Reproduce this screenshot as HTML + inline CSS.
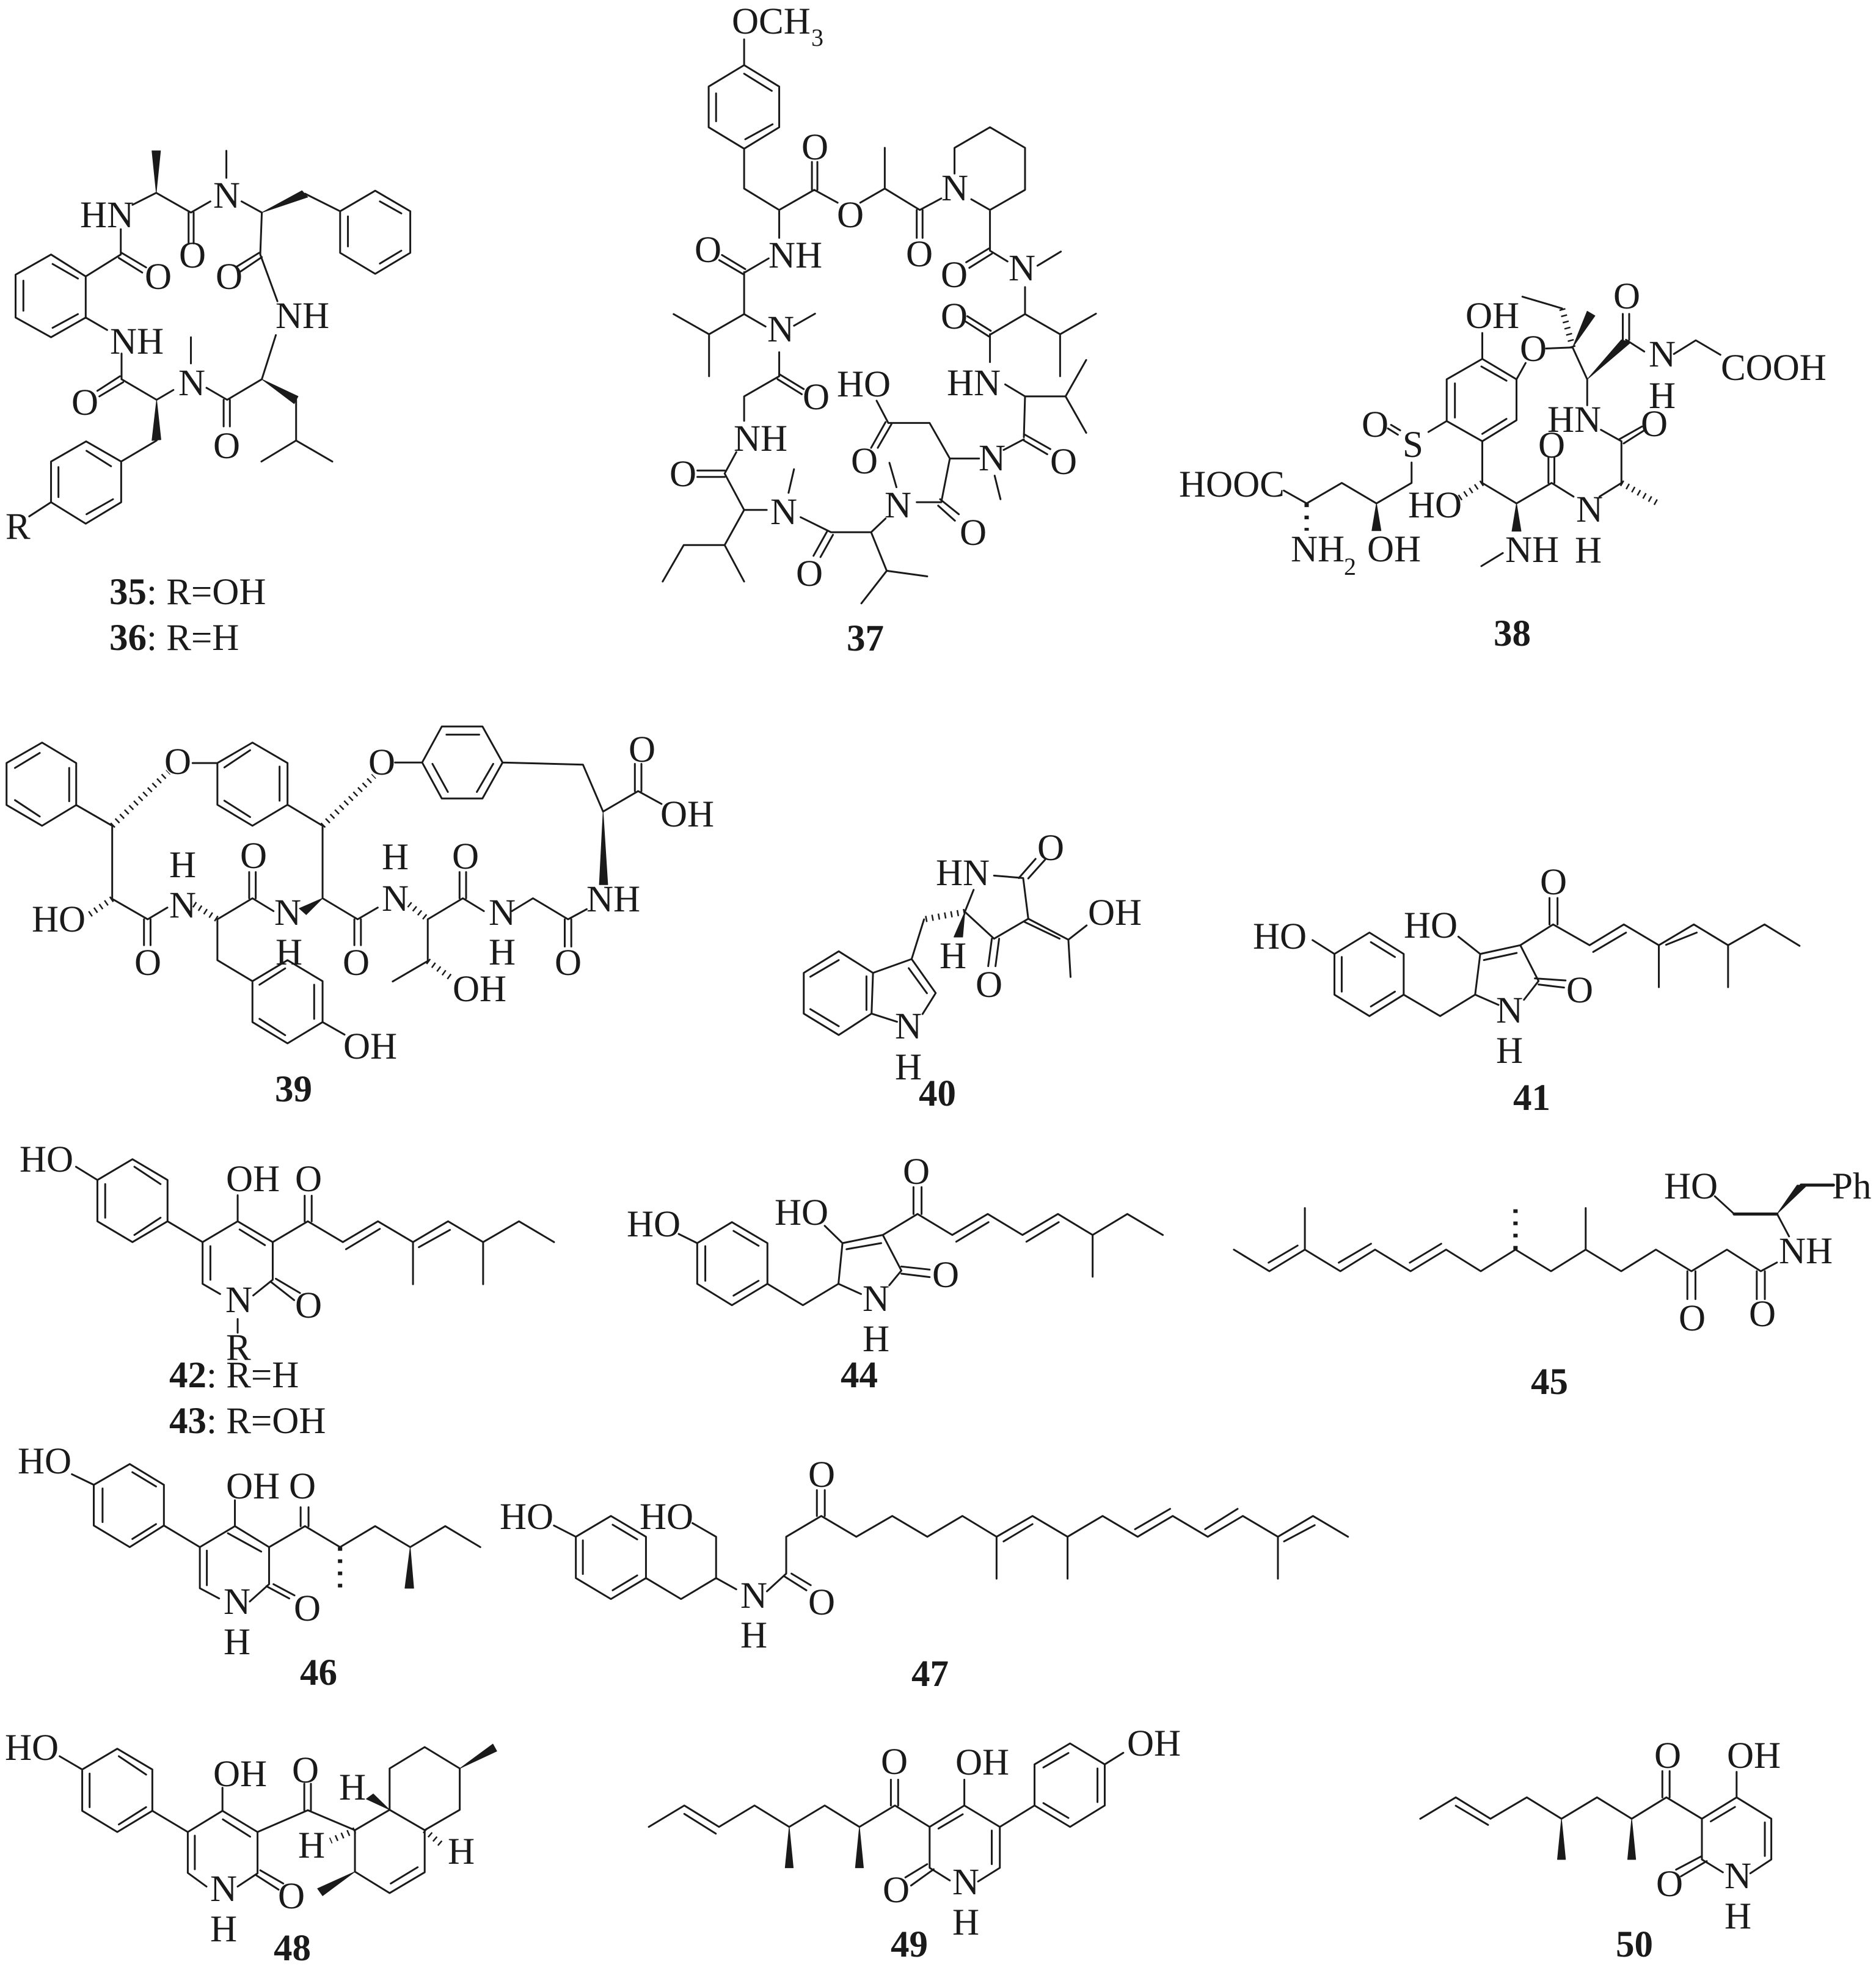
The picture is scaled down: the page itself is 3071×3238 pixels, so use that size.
<!DOCTYPE html>
<html><head><meta charset="utf-8"><style>
html,body{margin:0;padding:0;background:#fff}
svg{display:block}
text{font-family:"Liberation Serif",serif;font-size:61px;fill:#1a1a1a}
.s{font-size:40px}
.l{font-weight:bold}
path{vector-effect:non-scaling-stroke;fill:none;stroke:#1a1a1a;stroke-width:3;stroke-linecap:round;stroke-linejoin:round}
path.w{fill:#1a1a1a;stroke-width:1}
path.h{stroke-width:10;stroke-dasharray:2.5 8;stroke-linecap:butt}
path.d{stroke-width:7;stroke-dasharray:6 14;stroke-linecap:butt}
path.t{stroke-width:5}
</style></head><body>
<svg width="3071" height="3238" viewBox="0 0 3071 3238" xmlns="http://www.w3.org/2000/svg">
<rect width="3071" height="3238" fill="#fff"/>

<!-- 35/36 -->
<g transform="translate(0,0) scale(.6378,.7015)">
<path d="M131 594L220 645L220 741L131 787L40 741L40 641ZM135 616L200 650M60 655L60 725M135 765L200 733M220 645L310 594M312 590L375 624M305 602L365 636M310 594L310 535M340 478L401 450L490 496L540 470M484 496L484 568M497 496L497 568M581 352L581 415M620 470L672 496M783 452L873 493L963 445L1053 493L1053 590L963 639L873 590L873 493M975 470L1030 498M893 505L893 575M975 615L1030 585M672 496L668 594M665 590L608 622M672 600L615 635M668 594L712 703M708 782L672 885L583 933L530 905M760 933L760 1028L671 1077M760 1028L853 1077M574 933L574 995M590 933L590 995M490 787L490 848M445 910L402 933L312 885M308 878L250 912M316 892L255 925M312 885L312 825M220 741L275 770M402 1028L311 1077L221 1030L131 1077L131 1172L220 1222L311 1172L311 1077M222 1052L285 1088M150 1090L150 1160M222 1200L290 1165M131 1172L75 1205"/>
<path class="w" d="M401 450L390 352L412 352ZM672 496L775 445L790 460ZM672 885L765 925L755 942ZM402 933L390 1028L413 1026Z"/>
</g>
<text x="131" y="372">HN</text><text x="293" y="438">O</text><text x="349" y="340">N</text><text x="237" y="473">O</text><text x="353" y="473">O</text><text x="451" y="537">NH</text><text x="180" y="579">NH</text><text x="292" y="647">N</text><text x="117" y="679">O</text><text x="349" y="750">O</text><text x="9" y="882">R</text>
<text x="179" y="989"><tspan class="l">35</tspan>: R=OH</text>
<text x="179" y="1064"><tspan class="l">36</tspan>: R=H</text>

<!-- 37 -->
<g transform="translate(1000,0) scale(.6378,.7015)">
<path d="M342 92L342 152L432 202L432 297L342 347L251 297L251 202L342 152M342 172L413 212M270 218L270 283M345 325L415 290M342 347L342 440L432 490L522 443L582 473M516 443L516 378M530 443L530 378M640 473L703 440L793 490L848 463M703 440L703 345M785 490L785 555M800 490L800 555M882 405L882 345L973 297L1063 345L1063 443L973 490L925 465M973 490L973 585L1018 610M970 580L912 612M978 592L920 625M1095 620L1155 587M1063 670L1063 733L975 780M975 772L915 738M970 785L910 750M973 780L973 845M1063 733L1153 780L1245 732M1153 780L1153 878M1012 897L1063 925L1167 925L1220 840M1167 925L1220 1010M1063 925L1060 1020M1060 1013L1128 1048M1060 1028L1120 1060M1060 1025L1008 1050M985 1110L1000 1165M945 1070L870 1070L818 987L712 987L682 935M705 985L668 1045M720 990L685 1045M870 1070L848 1172L785 1172M845 1165L893 1200M840 1180L883 1215M715 1080L733 1137M705 1210L668 1242L565 1242L487 1207M555 1240L520 1297M570 1248L538 1300M470 1095L456 1150M400 1190L342 1190L292 1105L322 1055M292 1098L222 1098M292 1113L222 1113M342 1190L292 1272L187 1272L133 1357M292 1272L342 1357M668 1242L708 1332L812 1345M708 1332L643 1408M432 490L432 555M405 603L345 635M345 628L285 595M340 640L278 607M342 635L342 733L252 780L161 733M252 780L252 878M342 733L397 762M470 760L524 732M432 822L432 878M432 873L495 908M428 885L490 920M432 878L342 925L342 982"/>
</g>
<text x="1198" y="55">OCH</text><text class="s" x="1328" y="75">3</text><text x="1312" y="261">O</text><text x="1370" y="372">O</text><text x="1483" y="436">O</text><text x="1541" y="328">N</text><text x="1540" y="470">O</text><text x="1651" y="459">N</text><text x="1540" y="538">O</text><text x="1550" y="647">HN</text><text x="1719" y="776">O</text><text x="1602" y="770">N</text><text x="1370" y="649">HO</text><text x="1393" y="775">O</text><text x="1448" y="847">N</text><text x="1571" y="892">O</text><text x="1303" y="959">O</text><text x="1261" y="858">N</text><text x="1096" y="796">O</text><text x="1201" y="738">NH</text><text x="1314" y="670">O</text><text x="1256" y="559">N</text><text x="1137" y="429">O</text><text x="1258" y="438">NH</text>
<text class="l" x="1386" y="1065">37</text>

<!-- 38 -->
<g transform="translate(1900,400) scale(.7468,.4464)">
<path d="M705 325L705 420L780 495L780 645L705 722L627 648L627 495L705 420M703 448L758 500M645 510L645 635M705 695L758 640M780 495L800 435M845 382L903 378L935 495M880 235L793 192M1020 350L1060 393M1013 350L1013 255M1027 350L1027 255M1125 402L1173 352L1227 405M935 495L935 590M965 680L1010 722L1010 875L962 925M1005 715L1055 668M1015 730L1062 680M905 925L857 875L780 950L705 875L705 722M850 875L850 780M863 875L863 780M750 1132L703 1180M627 648L587 688M505 662L525 682M498 675L520 698M550 800L550 875L473 950L397 875L320 950L270 903"/>
<path class="w" d="M903 378L935 245L952 262ZM935 495L1010 350L1030 360ZM780 950L770 1052L790 1052ZM473 950L463 1050L483 1050Z"/>
<path class="h" d="M903 378L880 235M1010 875L1090 950M705 875L655 930"/>
<path class="d" d="M320 950L320 1050"/>
</g>
<text x="1930" y="813">HOOC</text><text x="2399" y="537">OH</text><text x="2488" y="591">O</text><text x="2641" y="505">O</text><text x="2699" y="600">N</text><text x="2817" y="622">COOH</text><text x="2699" y="668">H</text><text x="2533" y="707">HN</text><text x="2686" y="714">O</text><text x="2518" y="749">O</text><text x="2229" y="715">O</text><text x="2296" y="748">S</text><text x="2305" y="847">HO</text><text x="2580" y="854">N</text><text x="2464" y="920">NH</text><text x="2578" y="921">H</text><text x="2113" y="919">NH</text><text class="s" x="2200" y="941">2</text><text x="2238" y="919">OH</text>
<text class="l" x="2445" y="1057">38</text>

<!-- 39 -->
<g transform="translate(0,1150) scale(.7653,.4464)">
<path d="M90 147L163 222L163 376L90 452L14 376L14 222ZM32 240L85 185M148 240L148 362M32 358L85 418M163 376L240 452L240 720L316 795L358 752M308 795L308 890M322 795L322 890M465 795L540 718L585 765M533 718L533 622M547 718L547 622M690 718L690 452L615 375L540 452L465 375L465 222L540 147L615 222L615 375M598 235L598 360M480 238L535 175M480 360L535 420M412 222L465 222M690 718L765 795L808 752M758 795L758 890M772 795L772 890M915 795L990 718L1035 765M983 718L983 622M997 718L997 622M1095 765L1140 718L1215 795L1255 758M1208 795L1208 895M1222 795L1222 895M1290 400L1247 228L1075 220L1032 352L945 352L903 220L945 88L1032 88L1075 220M1025 118L955 118M1055 225L1020 328M925 225L958 328M845 220L903 220M1290 400L1365 325L1415 372M1358 325L1358 225M1372 325L1372 225M915 795L915 948L840 1023M465 795L465 945L540 1022L615 945L690 1022L690 1172L615 1250L540 1172L540 1022M555 1035L610 975M672 1035L672 1160M555 1160L610 1220M690 1172L737 1218"/>
<path class="w" d="M690 718L640 755L655 778ZM1290 400L1282 668L1300 668Z"/>
<path class="h" d="M240 452L360 255M240 720L185 785M415 740L465 795M875 740L915 795M690 452L800 270M915 948L965 1010"/>
</g>
<text x="269" y="1267">O</text><text x="603" y="1268">O</text><text x="1029" y="1247">O</text><text x="1081" y="1353">OH</text><text x="393" y="1421">O</text><text x="277" y="1436">H</text><text x="277" y="1502">N</text><text x="52" y="1525">HO</text><text x="220" y="1596">O</text><text x="449" y="1514">N</text><text x="625" y="1423">H</text><text x="625" y="1491">N</text><text x="740" y="1422">O</text><text x="800" y="1514">N</text><text x="960" y="1492">NH</text><text x="451" y="1579">H</text><text x="561" y="1596">O</text><text x="800" y="1579">H</text><text x="908" y="1596">O</text><text x="741" y="1639">OH</text><text x="562" y="1733">OH</text>
<text class="l" x="450" y="1803">39</text>

<!-- 40 / 41 -->
<g transform="translate(1200,1350) scale(1.1933,.3333)">
<path d="M358 250L398 262L405 462L358 560L318 428L330 320M392 262L415 168M405 264L428 172M355 560L350 695M365 560L360 695M262 465L245 660L192 728L145 622L97 728L97 928L145 1033L190 928L192 728M245 660L278 827L260 930M241 705L266 828M145 665L106 747M183 745L183 910M106 906L145 990M190 928L225 968M405 462L460 565L463 748M400 478L448 560M460 565L485 495"/>
<path class="w" d="M318 428L303 552L315 552Z"/>
<path class="h" d="M318 428L262 465"/>
<path d="M795 567L825 635L873 530L920 635L920 835L873 940L825 835L825 635M875 577L908 650M835 650L835 820M875 893L908 820M920 835L970 940L1018 835L1050 885M1018 835L1025 635L1080 592L1105 768L1085 860M1030 665L1075 630M995 550L1025 635M1100 755L1142 765M1105 785L1140 800M1080 592L1125 490L1175 592L1222 490L1270 592L1318 490L1365 592L1415 490L1463 595M1120 490L1120 360M1131 490L1131 360M1180 625L1225 530M1280 590L1322 530M1270 592L1270 798M1365 592L1365 798"/>
</g>
<text x="1532" y="1449">HN</text><text x="1698" y="1408">O</text><text x="1781" y="1514">OH</text><text x="1597" y="1632">O</text><text x="1538" y="1585">H</text><text x="1465" y="1700">N</text><text x="1465" y="1767">H</text>
<text class="l" x="1504" y="1810">40</text>
<text x="2051" y="1553">HO</text><text x="2298" y="1535">HO</text><text x="2521" y="1464">O</text><text x="2564" y="1641">O</text><text x="2449" y="1674">N</text><text x="2449" y="1740">H</text>
<text class="l" x="2477" y="1817">41</text>

<!-- 42/43 -->
<g transform="translate(0,1850) scale(.6378,.3333)">
<path d="M195 180L250 245L340 143L430 245L430 448L340 550L250 448L250 245M345 180L412 265M270 265L270 430M345 515L412 430M430 448L520 550L610 448L610 320M610 448L700 550L700 735L650 812M615 488L680 565M708 730L770 800M695 745L755 835M520 550L520 755L565 805M540 570L540 735M610 928L610 995M700 550L790 448L880 550L970 448L1060 550L1150 448L1240 550L1332 448L1422 550M782 448L782 322M800 448L800 322M888 585L975 485M1075 575L1155 490M1060 550L1060 757M1240 550L1240 757"/>
</g>
<text x="32" y="1918">HO</text><text x="370" y="1950">OH</text><text x="483" y="1950">O</text><text x="369" y="2148">N</text><text x="483" y="2157">O</text><text x="370" y="2226">R</text>
<text x="277" y="2271"><tspan class="l">42</tspan>: R=H</text>
<text x="277" y="2346"><tspan class="l">43</tspan>: R=OH</text>

<!-- 44 / 45 -->
<g transform="translate(1000,1880) scale(1.321,.3333)">
<path d="M84 420L107 465L150 362L194 465L194 665L150 770L107 665L107 465M152 405L183 478M117 480L117 650M152 723L183 650M194 665L238 770L282 665L310 715M282 665L287 465L337 425L360 600L345 672M292 495L335 465M265 380L287 465M360 580L395 595M360 615L395 632M337 425L380 322L423 425L467 322L510 425L554 322L597 425L640 322L684 425M375 322L375 190M385 322L385 190M428 458L468 362M515 458L555 362M597 425L597 630"/>
<path d="M772 497L816 603L860 497L904 603L947 497L991 603L1035 497L1078 603L1121 497L1165 603L1208 497L1252 603L1295 497L1339 603L1383 497L1425 603L1445 560M815 561L851 477M902 561L942 468M990 561L1029 468M860 497L860 293M1208 497L1208 293M1334 603L1334 740M1344 603L1344 740M1420 603L1420 740M1430 603L1430 740M1445 320L1460 432M1392 322L1368 235"/>
<path class="t" d="M1392 322L1445 322M1475 180L1515 180"/>
<path class="w" d="M1445 322L1470 180L1482 182Z"/>
<path class="d" d="M1121 497L1121 295"/>
</g>
<text x="1026" y="2024">HO</text><text x="1268" y="2005">HO</text><text x="1478" y="1938">O</text><text x="1526" y="2107">O</text><text x="1412" y="2146">N</text><text x="1412" y="2212">H</text>
<text class="l" x="1376" y="2271">44</text>
<text x="2724" y="1962">HO</text><text x="2999" y="1962">Ph</text><text x="2912" y="2068">NH</text><text x="2748" y="2178">O</text><text x="2863" y="2171">O</text>
<text class="l" x="2506" y="2282">45</text>

<!-- 46 / 47 -->
<g transform="translate(0,2340) scale(1.4348,.3333)">
<path d="M82 220L107 272L148 170L187 272L187 472L148 578L107 472L107 272M151 210L178 280M117 290L117 455M151 538L178 465M187 472L228 578L268 475L268 348M268 475L307 578L307 760L285 845M260 510L298 600M228 578L228 780L250 830M236 595L236 765M304 770L330 830M312 760L336 815M307 578L348 475L388 578L428 475L468 578L508 475L548 578M343 475L343 382M352 475L352 382"/>
<path class="w" d="M468 578L462 780L472 780Z"/>
<path class="d" d="M388 578L388 780"/>
<path d="M632 472L657 527L697 425L737 527L737 730L697 833L657 730L657 527M699 468L727 540M665 545L665 710M699 790L727 717M737 730L777 833L817 730L817 527L790 460M817 730L840 785M875 795L897 708L897 527L937 425L977 527L1018 425L1058 527L1098 425L1137 527L1178 425L1218 527L1258 425L1298 527L1338 425L1378 527L1418 425L1458 527L1498 425L1538 527M903 708L925 765M895 722L920 790M932 425L932 298M941 425L941 298M1145 550L1178 465M1295 490L1335 390M1375 490L1412 390M1465 550L1500 470M1137 527L1137 733M1218 527L1218 733M1458 527L1458 733"/>
</g>
<text x="29" y="2412">HO</text><text x="370" y="2453">OH</text><text x="473" y="2453">O</text><text x="366" y="2642">N</text><text x="481" y="2653">O</text><text x="366" y="2708">H</text>
<text class="l" x="491" y="2758">46</text>
<text x="818" y="2503">HO</text><text x="1047" y="2503">HO</text><text x="1323" y="2434">O</text><text x="1212" y="2632">N</text><text x="1323" y="2643">O</text><text x="1212" y="2697">H</text>
<text class="l" x="1492" y="2760">47</text>

<!-- 48 -->
<g transform="translate(0,2780) scale(.6378,.3333)">
<path d="M153 285L211 350L301 248L391 350L391 553L301 657L211 553L211 350M305 285L375 375M230 370L230 535M305 620L375 535M391 553L482 657L571 553L571 440M571 553L661 657L661 860L610 925M572 595L642 680M668 845L727 910M658 870L715 940M482 657L482 858L530 925M500 675L500 840M661 657L790 550L911 648L1000 548L1090 648L1180 548L1180 345L1090 240L1000 345L1000 548M781 550L781 420M798 550L798 420M1090 648L1090 855L1000 957L911 852L911 648M1072 830L1003 910"/>
<path class="w" d="M1000 548L940 495L958 470ZM1180 345L1265 225L1275 260ZM911 852L815 935L828 970Z"/>
<path class="h" d="M911 648L848 700M1090 648L1140 730"/>
</g>
<text x="8" y="2881">HO</text><text x="349" y="2924">OH</text><text x="478" y="2918">O</text><text x="555" y="2946">H</text><text x="488" y="3041">H</text><text x="733" y="3051">H</text><text x="344" y="3112">N</text><text x="455" y="3124">O</text><text x="344" y="3178">H</text>
<text class="l" x="448" y="3209">48</text>

<!-- 49 / 50 -->
<g transform="translate(1000,2780) scale(1.321,.3333)">
<path d="M47 632L91 527L134 632L178 527L221 632L265 527L308 632L352 527L395 632L438 527L482 632L525 527L569 632L612 527L612 325L569 222L525 325L525 527M91 568L130 665M347 527L347 400M356 527L356 400M406 640L436 570M438 527L438 400M395 632L395 833L420 895M482 632L482 833L455 900M472 650L472 815M392 815L365 880M400 840L372 920M536 515L567 588M603 345L603 510M536 340L567 269M612 325L635 268"/>
<path class="w" d="M221 632L216 833L226 833ZM308 632L303 833L313 833Z"/>
<path d="M1003 592L1047 487L1090 592L1135 487L1178 592L1222 487L1265 592L1308 487L1352 592L1395 487L1438 592L1438 792L1412 860M1047 528L1087 622M1303 487L1303 358M1312 487L1312 358M1352 592L1352 792L1378 855M1363 605L1393 534M1395 487L1395 362M1430 610L1430 775M1352 775L1320 842M1358 800L1326 875"/>
<path class="w" d="M1178 592L1173 792L1183 792ZM1265 592L1260 792L1270 792Z"/>
</g>
<text x="1845" y="2874">OH</text><text x="1442" y="2904">O</text><text x="1564" y="2905">OH</text><text x="1445" y="3114">O</text><text x="1559" y="3101">N</text><text x="1559" y="3167">H</text>
<text class="l" x="1458" y="3203">49</text>
<text x="2708" y="2894">O</text><text x="2827" y="2894">OH</text><text x="2711" y="3104">O</text><text x="2823" y="3091">N</text><text x="2823" y="3157">H</text>
<text class="l" x="2645" y="3203">50</text>
</svg>
</body></html>
